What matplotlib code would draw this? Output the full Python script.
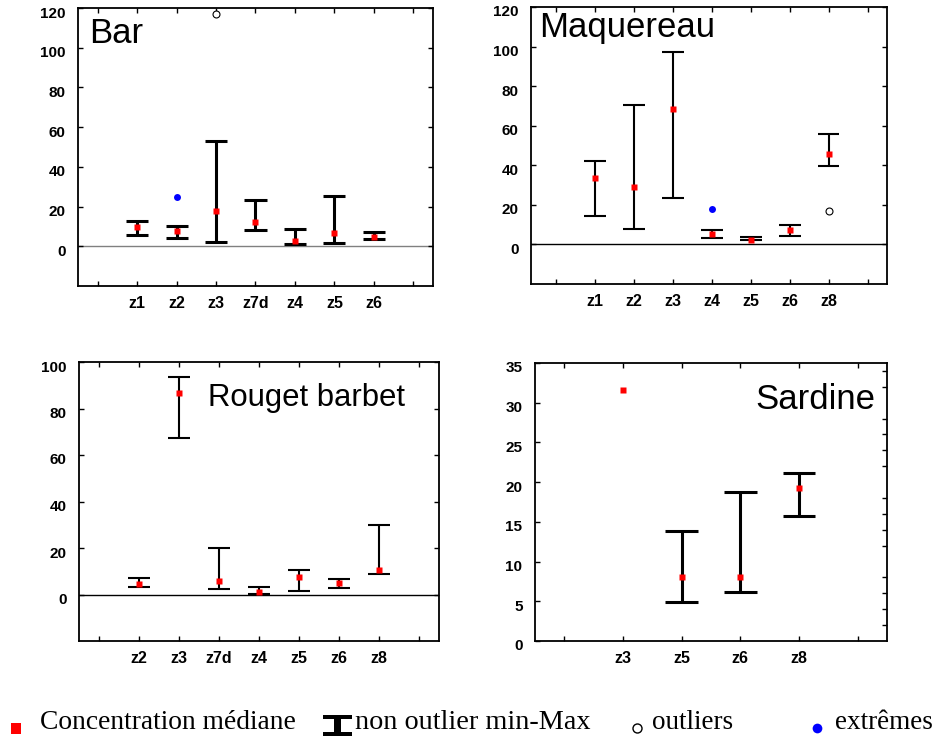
import matplotlib
matplotlib.use('Agg')
import matplotlib.pyplot as plt
from matplotlib.patches import Rectangle
from matplotlib.transforms import ScaledTranslation
from matplotlib.ticker import MultipleLocator
import numpy as np

plt.rcParams['font.family'] = ['Liberation Sans', 'DejaVu Sans']

# ---- données ----
# Bar
bar_zones = ['z1', 'z2', 'z3', 'z7d', 'z4', 'z5', 'z6']
bar_med = [9.9, 7.5, 17.6, 12.1, 2.7, 6.9, 4.9]
bar_min = [5.5, 4.2, 2.2, 8.2, 1.0, 1.8, 3.7]
bar_max = [12.9, 10.2, 53.0, 23.3, 8.7, 25.3, 7.4]
bar_out_zone = ['z3']
bar_out_val = [117.0]
bar_ext_zone = ['z2']
bar_ext_val = [25.0]

# Maquereau
maq_zones = ['z1', 'z2', 'z3', 'z4', 'z5', 'z6', 'z8']
maq_med = [33.6, 29.2, 68.4, 5.4, 2.2, 7.4, 45.7]
maq_min = [14.2, 7.6, 23.3, 3.5, 2.0, 4.2, 39.8]
maq_max = [42.4, 70.4, 97.2, 7.4, 3.9, 9.6, 55.9]
maq_out_zone = ['z8']
maq_out_val = [16.7]
maq_ext_zone = ['z4']
maq_ext_val = [17.7]

# Rouget barbet
rou_zones = ['z2', 'z3', 'z7d', 'z4', 'z5', 'z6', 'z8']
rou_med = [4.4, 86.5, 5.9, 1.1, 7.4, 5.0, 10.6]
rou_min = [3.4, 67.3, 2.3, 0.4, 1.4, 2.7, 9.0]
rou_max = [6.9, 93.7, 19.8, 3.2, 10.7, 6.7, 29.7]

# Sardine (z3 : une seule valeur, pas de min-Max)
sar_zones = ['z3', 'z5', 'z6', 'z8']
sar_med = [31.6, 8.1, 8.0, 19.2]
sar_min = [np.nan, 4.9, 6.2, 15.8]
sar_max = [np.nan, 13.8, 18.8, 21.1]

W, H = 937, 740
fig = plt.figure(figsize=(W / 100, H / 100), dpi=100)


def px_axes(l, r, t, b):
    return fig.add_axes([l / W, 1 - b / H, (r - l) / W, (b - t) / H])


def panel(ax, zones, med, lo, hi, ymin, ymax, ystep, lw, zero_col,
          out_z=(), out_v=(), ext_z=(), ext_v=(), xleft=-0.5):
    n = len(zones)
    xs = np.arange(1, n + 1)
    pos = dict(zip(zones, xs))
    if zero_col is not None:
        ax.axhline(0, color=zero_col, lw=1.0, zorder=1)
    for x, a, b in zip(xs, lo, hi):
        if np.isnan(a):
            continue
        ax.vlines(x, a, b, color='black', lw=lw, zorder=2)
        ax.hlines([a, b], x - 0.28, x + 0.28, color='black', lw=lw, zorder=2)
    ax.plot(xs, med, 's', color='red', ms=5, mec='none', zorder=3)
    if len(out_z):
        ax.plot([pos[z] for z in out_z], out_v, 'o', mfc='white', mec='black',
                ms=5, mew=0.8, zorder=3, clip_on=False)
    if len(ext_z):
        ax.plot([pos[z] for z in ext_z], ext_v, 'o', color='blue', ms=5,
                mec='none', zorder=3)
    ax.set_xlim(xleft, n + 1.5)
    ax.set_ylim(ymin, ymax)
    ax.set_xticks(np.arange(0, n + 2))
    ax.set_xticklabels([''] + zones + [''])
    ax.set_yticks(np.arange(0, ymax + 0.1, ystep))
    ax.tick_params(axis='both', direction='in', length=3.5, width=1,
                   top=True, right=True, labelsize=11)
    ax.tick_params(axis='y', pad=9)
    ax.tick_params(axis='x', pad=7, labelsize=11.5)
    for lab in ax.get_xticklabels() + ax.get_yticklabels():
        lab.set_fontweight('bold')
    for tl in ax.get_yticklabels():
        tl.set_transform(tl.get_transform() +
                         ScaledTranslation(0, -4 / 100, fig.dpi_scale_trans))
    for sp in ax.spines.values():
        sp.set_linewidth(1.3)


ax1 = px_axes(78, 433, 8, 286)
panel(ax1, bar_zones, bar_med, bar_min, bar_max, -20, 120, 20, 2.2, '#808080',
      bar_out_zone, bar_out_val, bar_ext_zone, bar_ext_val)
ax1.text(0.031, 0.874, 'Bar', transform=ax1.transAxes, fontsize=25)

ax2 = px_axes(531, 887, 7, 284)
panel(ax2, maq_zones, maq_med, maq_min, maq_max, -20, 120, 20, 1.5, 'black',
      maq_out_zone, maq_out_val, maq_ext_zone, maq_ext_val, xleft=-0.64)
ax2.text(0.024, 0.892, 'Maquereau', transform=ax2.transAxes, fontsize=25)

ax3 = px_axes(79, 439, 362, 641)
panel(ax3, rou_zones, rou_med, rou_min, rou_max, -20, 100, 20, 1.5, 'black')
ax3.text(0.358, 0.841, 'Rouget barbet', transform=ax3.transAxes, fontsize=22.4)

ax4 = px_axes(535, 887, 363, 641)
panel(ax4, sar_zones, sar_med, sar_min, sar_max, 0, 35, 5, 2.2, None)
ax4.yaxis.set_minor_locator(MultipleLocator(2))
ax4.tick_params(axis='y', which='major', left=True, right=False)
ax4.tick_params(axis='y', which='minor', direction='in', length=3.5, width=1,
                left=False, right=True)
ax4.text(0.6255, 0.836, 'Sardine', transform=ax4.transAxes, fontsize=25)

# ---- légende en bas ----
serif = ['Liberation Serif', 'DejaVu Serif']
base = 1 - 729 / H


def rect_px(x0, y0, w, h, color):
    fig.add_artist(Rectangle((x0 / W, 1 - (y0 + h) / H), w / W, h / H,
                             transform=fig.transFigure, color=color, lw=0))


rect_px(11, 723, 10, 11, 'red')
fig.text(40 / W, base, 'Concentration médiane', family=serif, fontsize=19.8)
rect_px(323, 715, 29, 4, 'black')
rect_px(333.5, 715, 7.5, 21, 'black')
rect_px(323, 731.5, 29, 4, 'black')
fig.text(355 / W, base, 'non outlier min-Max', family=serif, fontsize=20.3)
fig.add_artist(plt.Line2D([636.7 / W], [1 - 728 / H], marker='o', ms=6.5,
                          mfc='white', mec='black', mew=1,
                          transform=fig.transFigure))
fig.text(652 / W, base, 'outliers', family=serif, fontsize=19.5)
fig.add_artist(plt.Line2D([817 / W], [1 - 728 / H], marker='o', ms=7,
                          color='blue', mec='none', transform=fig.transFigure))
fig.text(835 / W, base, 'extrêmes', family=serif, fontsize=19.5)

fig.savefig('out.png', dpi=100)
